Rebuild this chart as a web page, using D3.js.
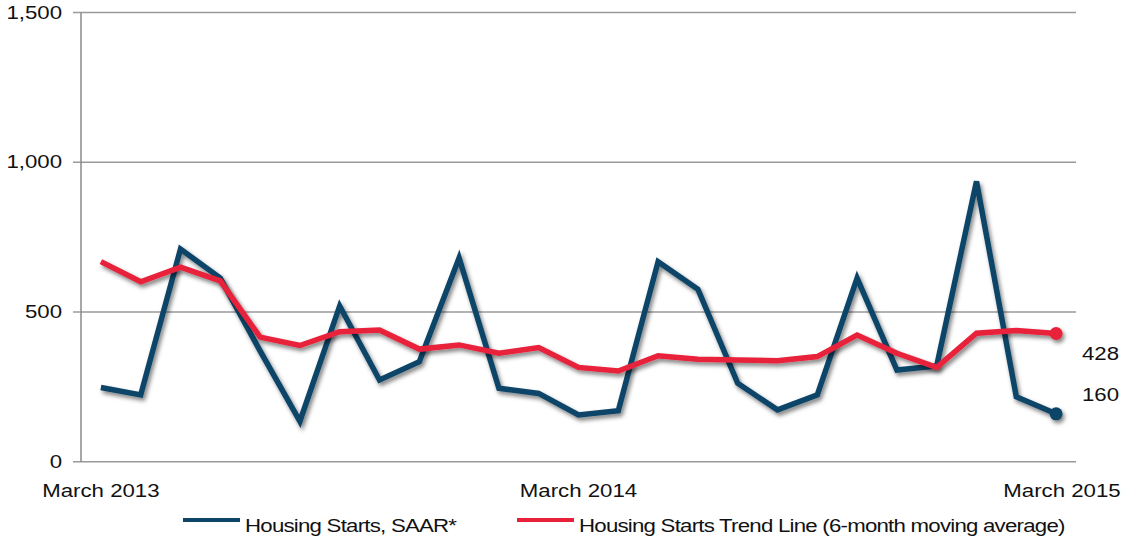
<!DOCTYPE html>
<html>
<head>
<meta charset="utf-8">
<script src="https://cdn.jsdelivr.net/npm/d3@7"></script>
<style>
  body { margin: 0; background: #fff; }
  text { font-family: "Liberation Sans", Arial, sans-serif; fill: #111; }
</style>
</head>
<body>
<svg id="chart" width="1127" height="537"></svg>
<script>
// monthly, March 2013 .. March 2015
const months = d3.range(25);
const xLabels = [[0, "March 2013"], [12, "March 2014"], [24, "March 2015"]];
const starts = [248, 223, 710, 613, 370, 135, 520, 273, 334, 680, 245, 228, 156, 170,
                668, 576, 262, 173, 223, 613, 306, 320, 936, 217, 160];
const trend = [668, 601, 650, 604, 416, 388, 434, 440, 376, 390, 362, 381, 315, 303,
               354, 342, 340, 337, 351, 423, 362, 315, 429, 438, 428];
const yTicks = [0, 500, 1000, 1500];
const seriesNames = ["Housing Starts, SAAR*", "Housing Starts Trend Line (6-month moving average)"];
const colors = ["#0d4468", "#e8203a"];

const margin = {left: 81, right: 1076, top: 12.5, bottom: 461.7};
const stretch = 1.27; // text in the source is horizontally stretched

const svg = d3.select("#chart");

// drop shadow for the lines
const defs = svg.append("defs");
const f = defs.append("filter").attr("id", "shadow")
    .attr("x", "-5%").attr("y", "-5%").attr("width", "115%").attr("height", "120%");
f.append("feDropShadow").attr("dx", 2).attr("dy", 3).attr("stdDeviation", 2)
    .attr("flood-color", "#000").attr("flood-opacity", 0.5);

let x = d3.scalePoint().domain(months).range([margin.left, margin.right]).padding(0.5);
let y = d3.scaleLinear().domain([0, 1500]).range([margin.bottom, margin.top]);

function stretchedText(g, tx, ty, str, anchor, size) {
    g.append("text")
        .attr("transform", `translate(${tx},${ty}) scale(${stretch},1)`)
        .attr("text-anchor", anchor)
        .attr("dominant-baseline", "central")
        .style("font-size", size + "px")
        .text(str);
}

// gridlines + y labels
let grid = svg.append("g");
yTicks.forEach(t => {
    grid.append("line")
        .attr("x1", margin.left - 8).attr("x2", margin.right)
        .attr("y1", y(t)).attr("y2", y(t))
        .attr("stroke", "#9a9a9a").attr("stroke-width", 1.5);
    stretchedText(grid, 62, y(t), d3.format(",")(t), "end", 17.5);
});
grid.append("line")
    .attr("x1", margin.left).attr("x2", margin.left)
    .attr("y1", margin.top).attr("y2", margin.bottom)
    .attr("stroke", "#8a8a8a").attr("stroke-width", 1.5);

// x labels
xLabels.forEach(d => {
    let ax = x(d[0]);
    if (d[0] === 24) ax = 1062;
    stretchedText(svg, ax, 491, d[1], "middle", 17.5);
});

// lines
let line = d3.line().x((d, i) => x(i)).y(d => y(d));
[starts, trend].forEach((s, k) => {
    let g = svg.append("g").attr("filter", "url(#shadow)");
    g.append("path")
        .attr("d", line(s))
        .attr("fill", "none")
        .attr("stroke", colors[k])
        .attr("stroke-width", 5.5)
        .attr("stroke-linejoin", "miter");
    g.append("circle")
        .attr("cx", x(24)).attr("cy", y(s[24])).attr("r", 6.5)
        .attr("fill", colors[k]);
});

// end value labels
stretchedText(svg, 1082, 354, trend[24], "start", 17.5);
stretchedText(svg, 1082, 395, starts[24], "start", 17.5);

// legend
const legendX = [183, 517];
seriesNames.forEach((n, k) => {
    svg.append("line")
        .attr("x1", legendX[k]).attr("x2", legendX[k] + 57)
        .attr("y1", 520).attr("y2", 520)
        .attr("stroke", colors[k]).attr("stroke-width", 4);
    svg.append("text")
        .attr("transform", `translate(${legendX[k] + 62},526) scale(1.27,1)`)
        .attr("dominant-baseline", "central")
        .style("font-size", "17.5px")
        .style("letter-spacing", "-0.6px")
        .text(n);
});
</script>
</body>
</html>
